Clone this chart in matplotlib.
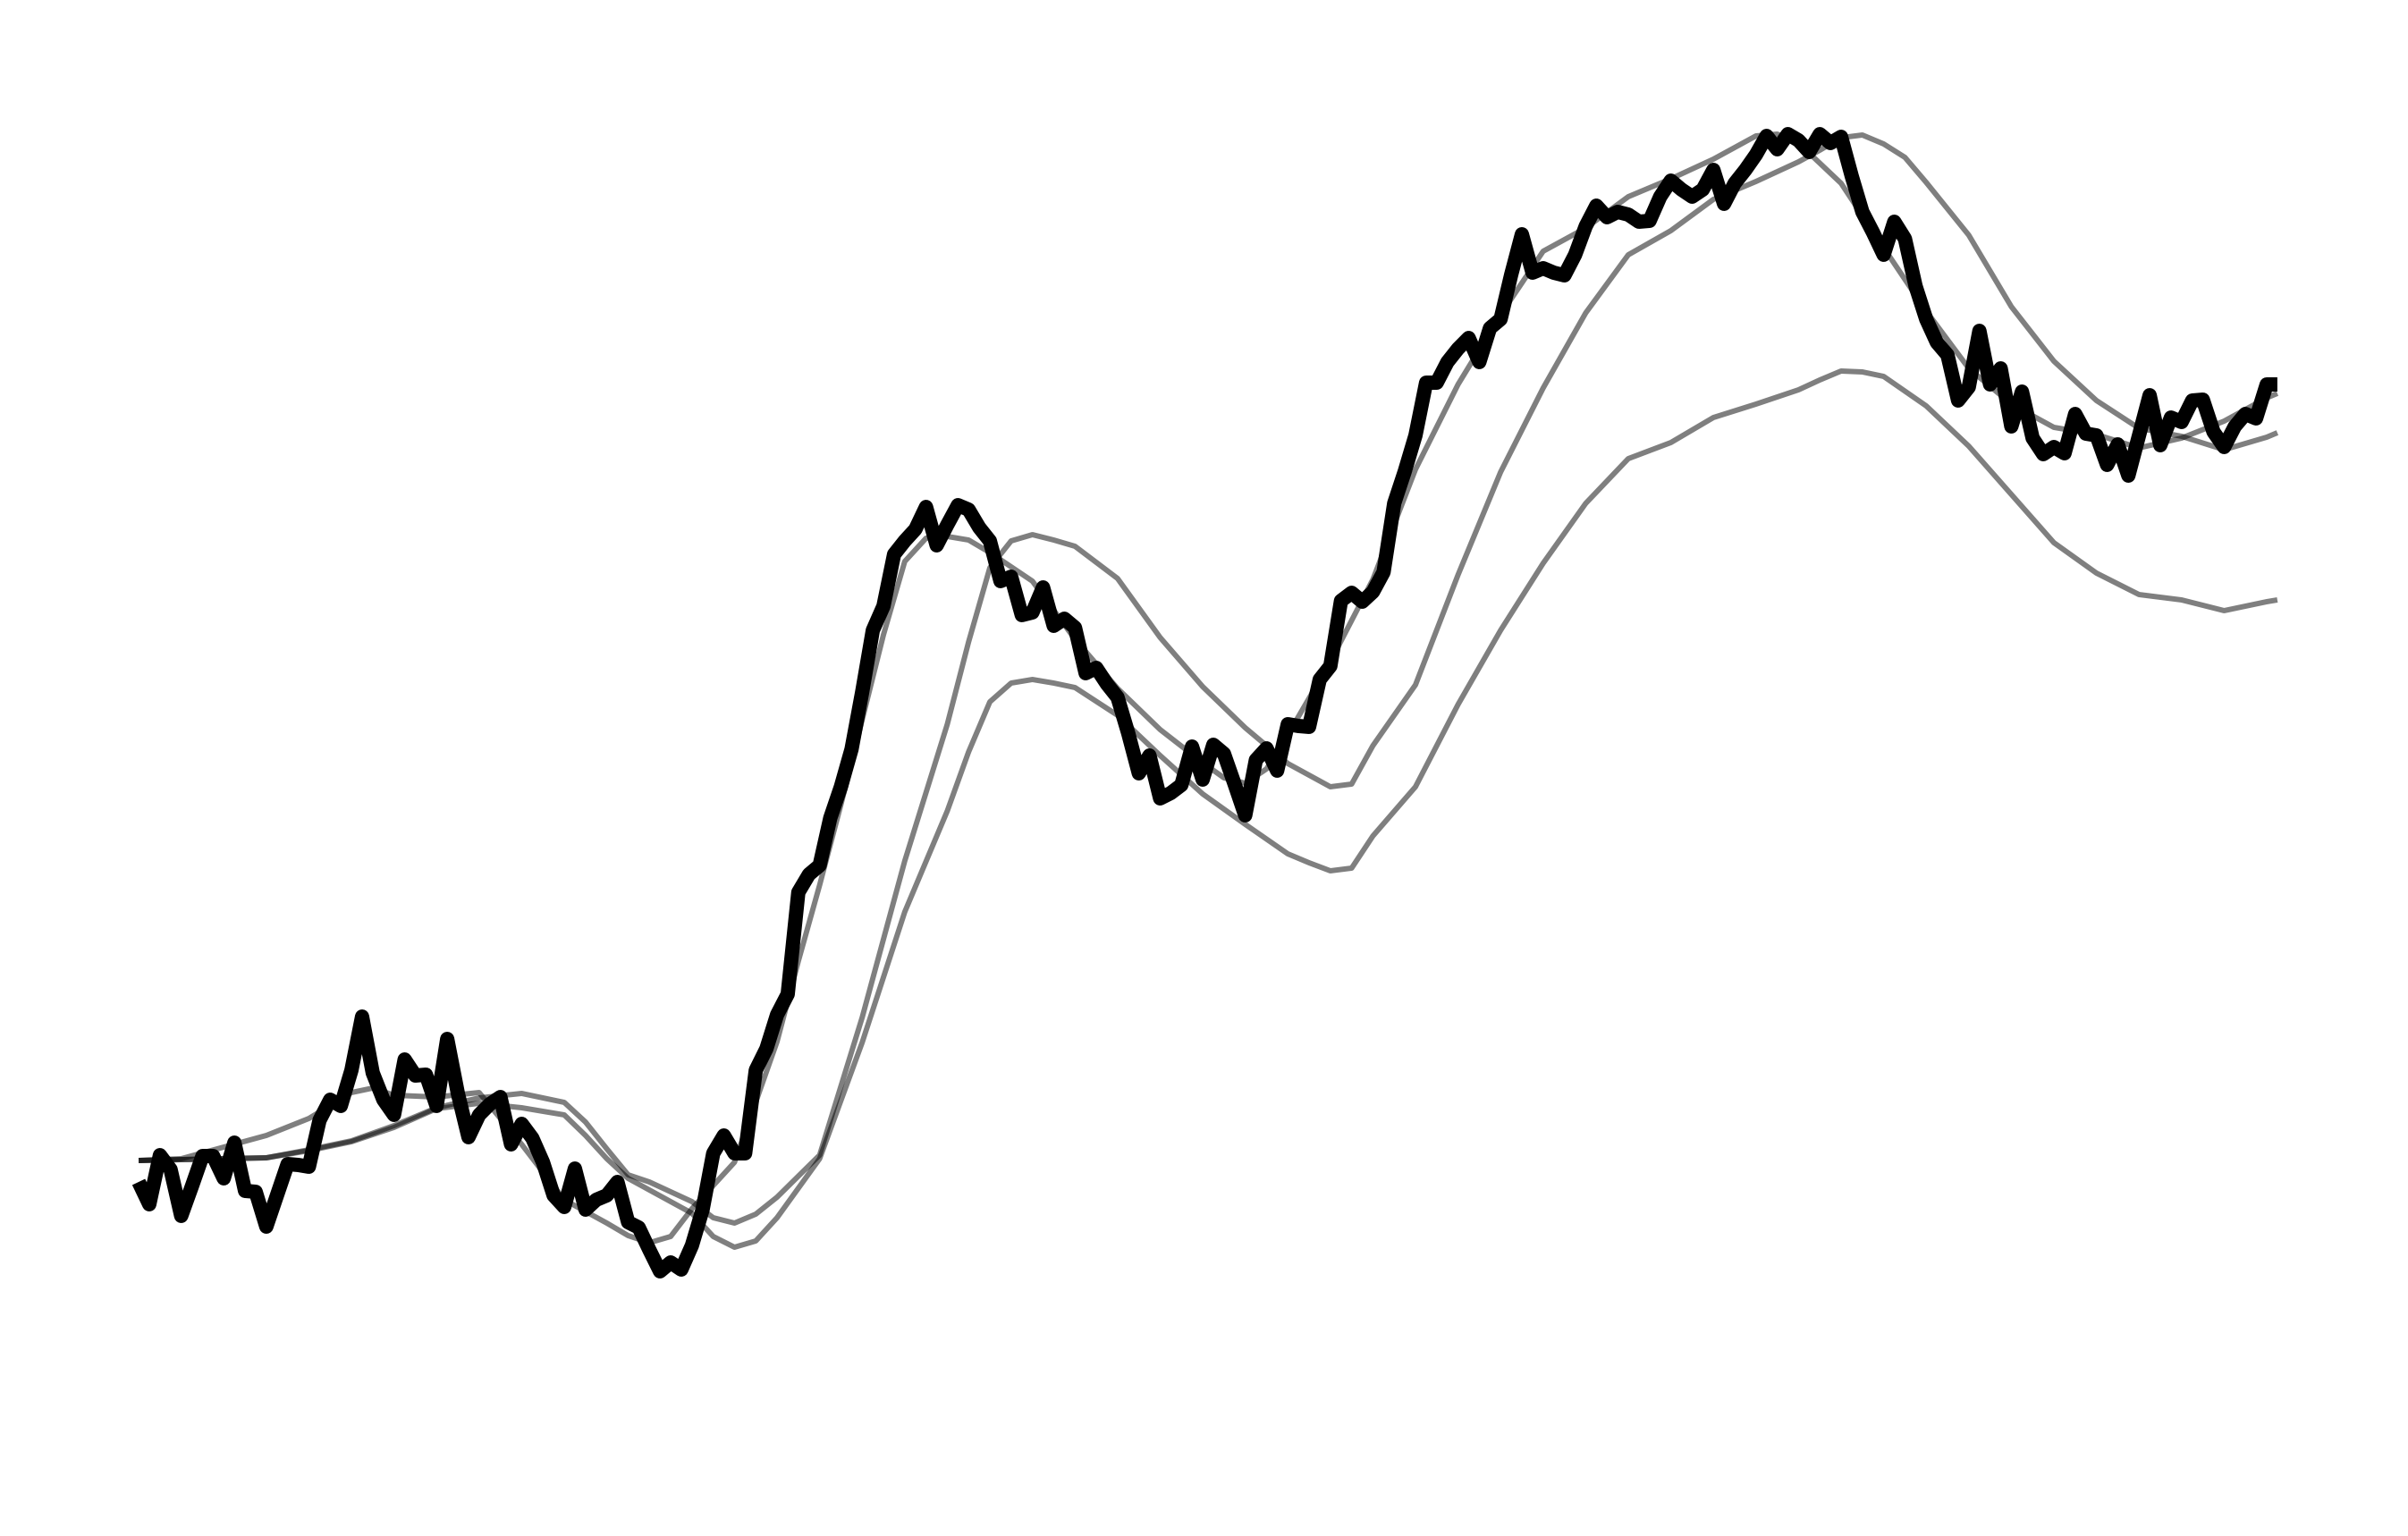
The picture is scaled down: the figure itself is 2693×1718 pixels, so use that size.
import numpy as np
import matplotlib
matplotlib.use("Agg")
import matplotlib.pyplot as plt

# price series (one value per step)
price = [
    17.8, 15.3, 20.8, 19.2, 14.0, 17.3, 20.7, 20.7, 18.2, 22.2,
    16.8, 16.7, 12.8, 16.3, 19.8, 19.7, 19.5, 24.7, 27.0, 26.3,
    30.3, 36.3, 30.0, 27.0, 25.3, 31.5, 29.7, 29.8, 26.3, 33.8,
    27.7, 22.8, 25.3, 26.5, 27.3, 22.0, 24.3, 22.7, 20.0, 16.3,
    15.0, 19.3, 14.7, 15.8, 16.3, 17.8, 13.3, 12.7, 10.2, 7.8,
    8.8, 8.0, 10.7, 14.7, 21.0, 23.0, 21.0, 21.0, 30.3, 32.7,
    36.5, 38.8, 50.2, 52.2, 53.2, 58.5, 62.0, 66.2, 72.6, 79.5,
    82.2, 88.0, 89.5, 90.8, 93.3, 89.0, 91.3, 93.5, 93.0, 91.0,
    89.5, 85.0, 85.5, 81.2, 81.5, 84.3, 80.0, 80.8, 79.8, 74.7,
    75.3, 73.5, 72.0, 68.0, 63.5, 65.5, 60.7, 61.3, 62.2, 66.5,
    62.8, 66.7, 65.7, 62.3, 58.8, 65.0, 66.3, 63.8, 69.0, 68.8,
    68.7, 74.0, 75.5, 82.8, 83.7, 82.7, 83.8, 86.0, 93.7, 97.3,
    101.3, 107.2, 107.2, 109.5, 111.0, 112.2, 109.5, 113.3, 114.3, 119.3,
    123.8, 119.5, 120.0, 119.5, 119.2, 121.5, 124.7, 127.0, 125.7, 126.3,
    126.0, 125.2, 125.3, 128.0, 129.8, 128.8, 128.0, 128.8, 131.0, 127.2,
    129.5, 131.0, 132.7, 134.8, 133.3, 135.0, 134.3, 133.0, 135.0, 134.0,
    134.7, 130.3, 126.3, 124.0, 121.5, 125.2, 123.3, 118.0, 114.3, 111.7,
    110.3, 105.2, 106.7, 113.0, 107.0, 108.8, 102.3, 106.2, 101.0, 99.2,
    100.0, 99.3, 103.7, 101.5, 101.3, 98.0, 100.3, 96.8, 101.3, 105.8,
    100.2, 103.3, 102.8, 105.2, 105.3, 101.7, 100.0, 102.3, 103.7, 103.2,
    107.0, 107.0,
]

# the three smooth grey lines, read at the steps listed with them
fast_steps = [0, 4, 8, 12, 16, 20, 22, 24, 28, 32, 36, 40, 44, 46, 48, 50,
              52, 56, 60, 62, 64, 66, 68, 70, 72, 74, 76, 78, 80, 84, 88, 92,
              96, 100, 102, 104, 106, 108, 112, 116, 120, 124, 128, 132, 136,
              140, 144, 148, 150, 152, 154, 156, 160, 164, 168, 172, 176, 180,
              184, 188, 192, 196, 200, 201]
fast_line = [20.2, 20.4, 21.7, 23.0, 24.9, 27.8, 28.3, 27.5, 27.3, 27.8,
             22.0, 15.8, 13.2, 11.8, 11.0, 11.7, 14.8, 20.0, 33.5, 42.5,
             51.0, 60.0, 69.5, 79.0, 87.2, 89.8, 90.0, 89.6, 88.2, 85.0,
             78.5, 73.0, 68.4, 64.7, 63.0, 62.4, 64.0, 67.8, 76.0, 85.2,
             97.5, 107.0, 114.8, 121.9, 124.5, 128.0, 130.0, 132.2, 133.5,
             134.8, 135.0, 134.0, 129.5, 122.3, 115.2, 108.8, 104.8, 102.2,
             101.4, 99.9, 101.0, 102.9, 105.5, 106.0]

slow_steps = [0, 4, 8, 12, 16, 20, 24, 28, 32, 36, 40, 42, 44, 46, 48, 52,
              54, 56, 58, 60, 64, 68, 72, 76, 78, 80, 82, 84, 86, 88, 92, 96,
              100, 104, 108, 110, 112, 114, 116, 120, 124, 128, 132, 136, 140,
              144, 148, 152, 156, 158, 160, 162, 164, 166, 168, 172, 176, 180,
              184, 188, 192, 196, 200, 201]
slow_line = [20.2, 20.3, 20.4, 20.5, 21.4, 22.4, 24.1, 26.1, 27.2, 27.7,
             26.7, 24.5, 21.5, 18.6, 17.8, 15.6, 13.8, 13.2, 14.2, 16.1,
             20.8, 36.2, 53.7, 69.0, 78.2, 86.5, 89.5, 90.2, 89.6, 88.9,
             85.3, 78.7, 73.2, 68.6, 64.6, 63.3, 62.0, 62.3, 66.6, 73.4,
             85.7, 97.2, 106.6, 115.0, 121.5, 124.2, 127.7, 129.7, 131.9,
             133.2, 134.6, 134.9, 133.9, 132.4, 129.6, 123.7, 115.7, 109.6,
             105.2, 102.1, 101.2, 99.7, 101.1, 101.6]

lower_steps = [0, 4, 8, 12, 16, 20, 24, 28, 32, 36, 40, 42, 44, 46, 48, 52,
               54, 56, 58, 60, 64, 68, 72, 76, 78, 80, 82, 84, 86, 88, 92, 96,
               100, 104, 108, 110, 112, 114, 116, 120, 124, 128, 132, 136, 140,
               144, 148, 152, 156, 158, 160, 162, 164, 168, 172, 176, 180, 184,
               188, 192, 196, 200, 201]
lower_line = [20.2, 20.3, 20.4, 20.5, 21.3, 22.3, 23.9, 26.0, 26.6, 26.1,
              25.3, 23.0, 20.4, 18.2, 16.9, 14.3, 11.7, 10.5, 11.2, 13.8,
              20.4, 33.4, 48.0, 59.3, 65.9, 71.5, 73.6, 74.0, 73.6, 73.1,
              70.0, 65.5, 61.2, 57.8, 54.5, 53.5, 52.6, 52.9, 56.5, 62.0,
              71.2, 79.5, 87.0, 93.7, 98.7, 100.5, 103.3, 104.8, 106.4,
              107.5, 108.5, 108.4, 107.9, 104.6, 100.1, 94.7, 89.3, 85.9,
              83.5, 82.9, 81.7, 82.7, 82.9]

steps = np.arange(len(price))

fig = plt.figure(figsize=(26.93, 17.18), dpi=100)
ax = fig.add_axes([0, 0, 1, 1])

for xs, ys in ((fast_steps, fast_line), (slow_steps, slow_line),
               (lower_steps, lower_line)):
    ax.plot(xs, ys, color="black", alpha=0.5, lw=4.3,
            solid_joinstyle="round", solid_capstyle="butt")
ax.plot(steps, price, color="black", lw=11.5,
        solid_joinstyle="round", solid_capstyle="butt")

ax.set_xlim(-13.03, 213.28)
ax.set_ylim(-21.8, 150)
ax.axis("off")

fig.savefig("out.png", dpi=100, facecolor="white")
plt.close(fig)
